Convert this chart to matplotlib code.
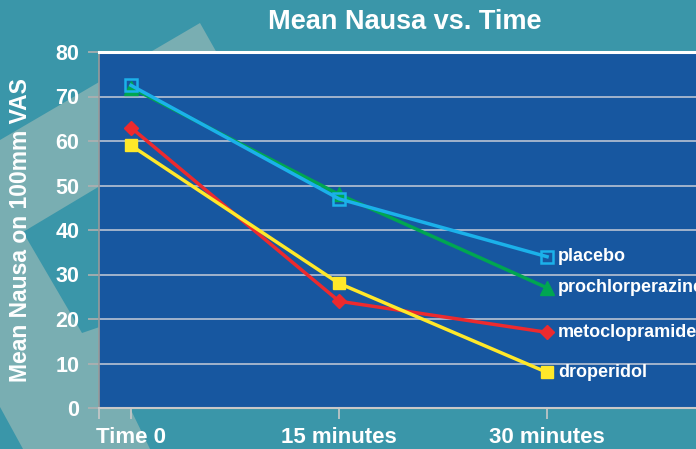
import matplotlib
matplotlib.use("Agg")
from matplotlib import pyplot as plt
from matplotlib.patches import Polygon

plt.rcParams['font.family'] = ['Liberation Sans', 'DejaVu Sans']
plt.rcParams['font.weight'] = 'bold'

# ---- data ----
time_labels = ["Time 0", "15 minutes", "30 minutes"]
placebo = [72.5, 47, 34]
prochlorperazine = [72, 48, 27]
metoclopramide = [63, 24, 17]
droperidol = [59, 28, 8]

W, H = 696, 449
TEAL = "#3A96A9"
TEAL_LIGHT = "#79AEB2"
PLOT_BLUE = "#1757A0"


def fig_poly(pts, color):
    """polygon given in pixel coords (origin top-left) -> figure coords"""
    return Polygon([(x / W, 1 - y / H) for x, y in pts], closed=True,
                   transform=fig.transFigure, facecolor=color,
                   edgecolor="none", zorder=-5)


fig = plt.figure(figsize=(W / 100, H / 100), dpi=100, facecolor=TEAL)

# slide background shapes (behind the axes)
fig.patches.append(fig_poly([(0, 140), (200, 23), (300, 200), (130, 408),
                             (150, 449), (23, 449), (0, 407)], TEAL_LIGHT))
fig.patches.append(fig_poly([(23, 232), (120, 174), (120, 320), (82, 333)],
                            TEAL))

ax = fig.add_axes([99 / W, (H - 408) / H, 1 - 99 / W, (408 - 52) / H])
ax.set_facecolor(PLOT_BLUE)

x = list(range(len(time_labels)))

ax.plot(x, prochlorperazine, color="#00A651", lw=2.5, marker="^", ms=9.5,
        zorder=3)
ax.plot(x, placebo, color="#1BB1EA", lw=2.5, marker="s", ms=9,
        mfc="none", mec="#1BB1EA", mew=1.8, zorder=4)
ax.plot(x, metoclopramide, color="#EC2A2E", lw=2.5, marker="D", ms=7.5,
        zorder=5)
ax.plot(x, droperidol, color="#FFE82A", lw=2.5, marker="s", ms=8.5,
        zorder=6)

series = [("placebo", placebo), ("prochlorperazine", prochlorperazine),
          ("metoclopramide", metoclopramide), ("droperidol", droperidol)]
for name, vals in series:
    ax.annotate(name, xy=(x[-1], vals[-1]), xytext=(8, 0),
                textcoords="offset points", va="center", ha="left",
                color="white", fontsize=13, fontweight="bold",
                annotation_clip=False)

ax.set_ylim(0, 80)
ax.set_xlim(-0.154, 2.716)
ax.set_yticks(range(0, 81, 10))
ax.set_xticks(x)
ax.set_xticklabels(time_labels)
ax.set_xticks([-0.154], minor=True)

ax.yaxis.grid(True, color="#B9C2D3", lw=1.2)
ax.set_axisbelow(True)

ax.tick_params(axis="y", colors="#B0B0B0", length=8, width=1.2,
               labelcolor="white", labelsize=15.5, pad=6)
ax.tick_params(axis="x", colors="#C8C8C8", length=8, width=1.2,
               labelcolor="white", labelsize=16, pad=6, which="both")
for lab in ax.get_xticklabels() + ax.get_yticklabels():
    lab.set_fontweight("bold")

ax.spines["top"].set_color("white")
ax.spines["top"].set_linewidth(2.2)
ax.spines["left"].set_color("#9A9A9A")
ax.spines["left"].set_linewidth(1.2)
ax.spines["bottom"].set_color("#C8C8C8")
ax.spines["bottom"].set_linewidth(1.5)
ax.spines["right"].set_visible(False)

ax.set_ylabel("Mean Nausa on 100mm VAS", color="white", fontsize=16.5,
              fontweight="bold")
ax.yaxis.set_label_coords(-(99 - 32) / (W - 99), (408 - 230) / (408 - 52))

fig.text(405 / W, 1 - 22 / H, "Mean Nausa vs. Time", color="white",
         fontsize=19.5, fontweight="bold", ha="center", va="center")

fig.savefig("out.png", dpi=100, facecolor=fig.get_facecolor())
